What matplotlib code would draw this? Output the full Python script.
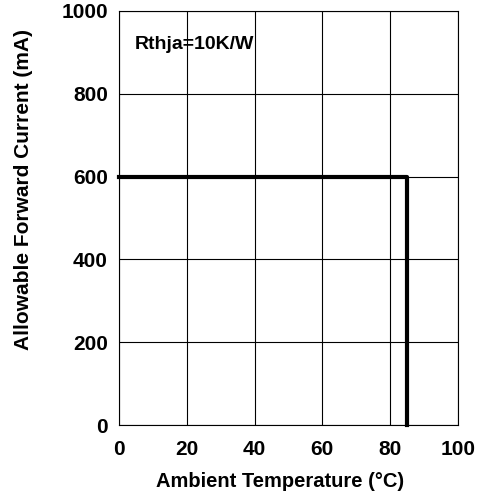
import matplotlib
matplotlib.use("Agg")
import matplotlib.pyplot as plt

plt.rcParams['font.family'] = ['Liberation Sans', 'DejaVu Sans']
plt.rcParams['font.weight'] = 'bold'

temp = [0, 85, 85]
current = [600, 600, 0]
x_ticks = [0, 20, 40, 60, 80, 100]
y_ticks = [0, 200, 400, 600, 800, 1000]

fig = plt.figure(figsize=(4.78, 4.95), dpi=100)
ax = fig.add_axes([0.249, 0.1414, 0.709, 0.8364])

ax.plot(temp, current, color='black', linewidth=3, clip_on=False)
ax.set_xlim(0, 100)
ax.set_ylim(0, 1000)
ax.set_xticks(x_ticks)
ax.set_yticks(y_ticks)
ax.grid(True, color='black', linewidth=0.8)
ax.tick_params(length=0, labelsize=15)
ax.tick_params(axis='x', pad=11)
ax.tick_params(axis='y', pad=8)
for s in ax.spines.values():
    s.set_linewidth(0.8)

ax.set_xlabel('Ambient Temperature (°C)', fontsize=14.5, fontweight='bold')
ax.set_ylabel('Allowable Forward Current (mA)', fontsize=15, fontweight='bold')
ax.xaxis.set_label_coords(0.475, -0.114)
ax.yaxis.set_label_coords(-0.254, 0.568)
ax.text(4.7, 918, 'Rthja=10K/W', fontsize=14, fontweight='bold', va='center')

fig.savefig('out.png', dpi=100)
